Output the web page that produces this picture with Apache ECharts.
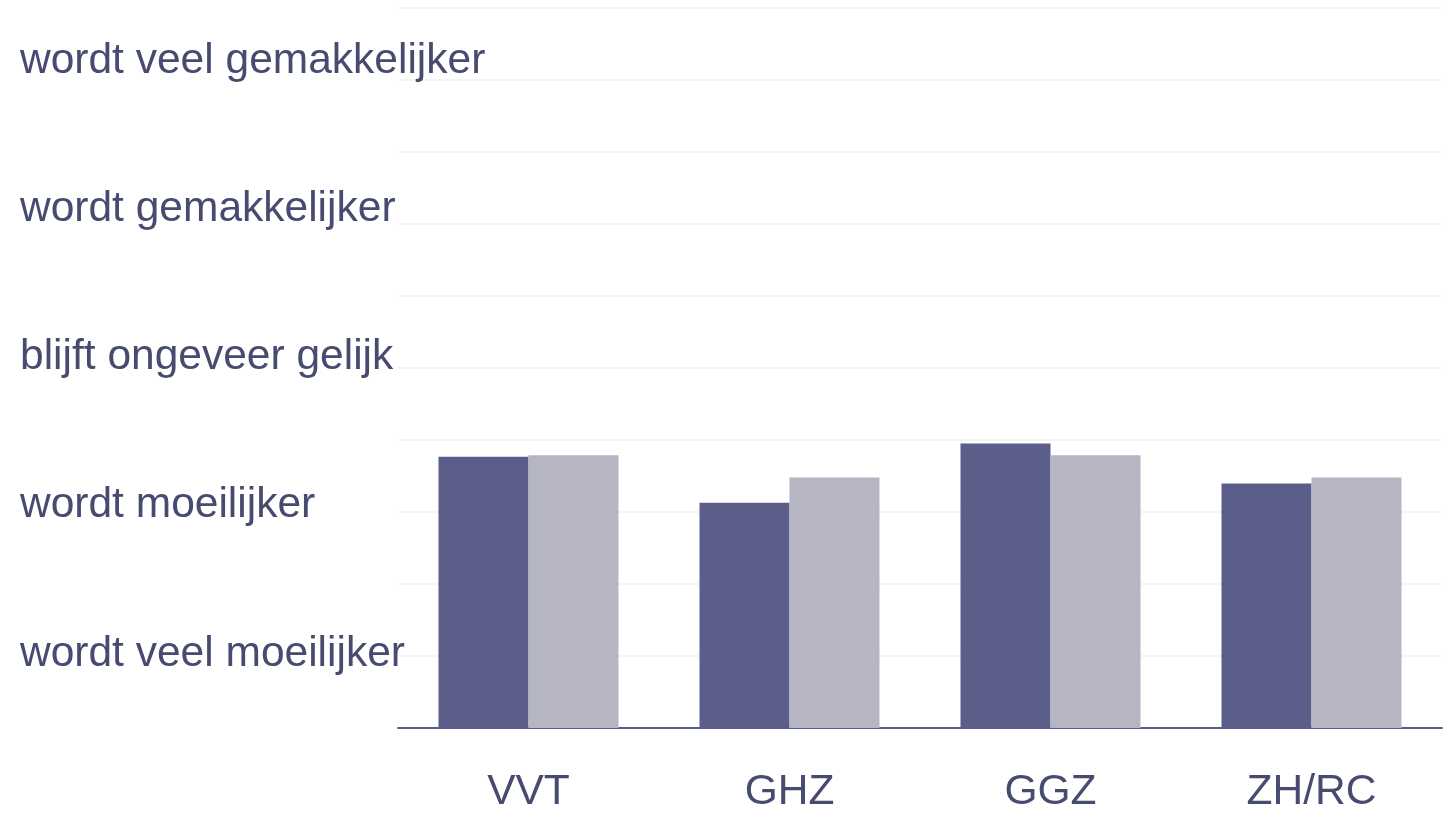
<!DOCTYPE html>
<html>
<head>
<meta charset="utf-8">
<script src="https://cdn.jsdelivr.net/npm/echarts@6/dist/echarts.min.js"></script>
<style>
  html, body { margin: 0; padding: 0; background: #fff; }
  #chart { width: 1446px; height: 822px; }
</style>
</head>
<body>
<div id="chart"></div>
<script>
// data
var categories = ["VVT", "GHZ", "GGZ", "ZH/RC"];
var scaleValues = [1, 2, 3, 4, 5];
var scaleLabels = [
  "wordt veel moeilijker",
  "wordt moeilijker",
  "blijft ongeveer gelijk",
  "wordt gemakkelijker",
  "wordt veel gemakkelijker"
];
var seriesDark = [2.33, 2.02, 2.42, 2.15];
var seriesLight = [2.34, 2.19, 2.34, 2.19];

var textColor = "#474b70";
var fontFamily = "'Liberation Sans', Arial, sans-serif";

var myChart = echarts.init(document.getElementById("chart"));
myChart.setOption({
  animation: false,
  grid: {
    left: 398,
    right: 4,
    top: 8,
    bottom: 94,
    containLabel: false
  },
  xAxis: {
    type: "category",
    data: categories,
    axisTick: { show: false },
    axisLine: {
      lineStyle: { color: "#5a5c8a", width: 2 }
    },
    axisLabel: {
      margin: 43,
      fontSize: 42.5,
      color: textColor,
      fontFamily: fontFamily
    }
  },
  yAxis: [
    {
      // only for the light grid lines
      type: "value",
      min: 0,
      max: 10,
      interval: 1,
      axisLabel: { show: false },
      axisLine: { show: false },
      axisTick: { show: false },
      splitLine: {
        show: true,
        lineStyle: { color: "#f4f4f6", width: 2 }
      }
    },
    {
      // answer scale, 1 = wordt veel moeilijker ... 5 = wordt veel gemakkelijker
      type: "value",
      position: "left",
      min: 0.501,
      max: 5.357,
      axisLine: { show: false },
      axisTick: { show: false },
      splitLine: { show: false },
      axisLabel: {
        customValues: scaleValues,
        margin: 378,
        align: "left",
        fontSize: 42.5,
        color: textColor,
        fontFamily: fontFamily,
        formatter: function (val) {
          var i = scaleValues.indexOf(Math.round(val));
          return i >= 0 ? scaleLabels[i] : "";
        }
      }
    }
  ],
  series: [
    {
      name: "reeks 1",
      type: "bar",
      yAxisIndex: 1,
      clip: true,
      barWidth: 90,
      barGap: "0%",
      itemStyle: { color: "#5b5d8a" },
      data: seriesDark
    },
    {
      name: "reeks 2",
      type: "bar",
      yAxisIndex: 1,
      clip: true,
      barWidth: 90,
      barGap: "0%",
      itemStyle: { color: "#b6b5c4" },
      data: seriesLight
    }
  ]
});
</script>
</body>
</html>
